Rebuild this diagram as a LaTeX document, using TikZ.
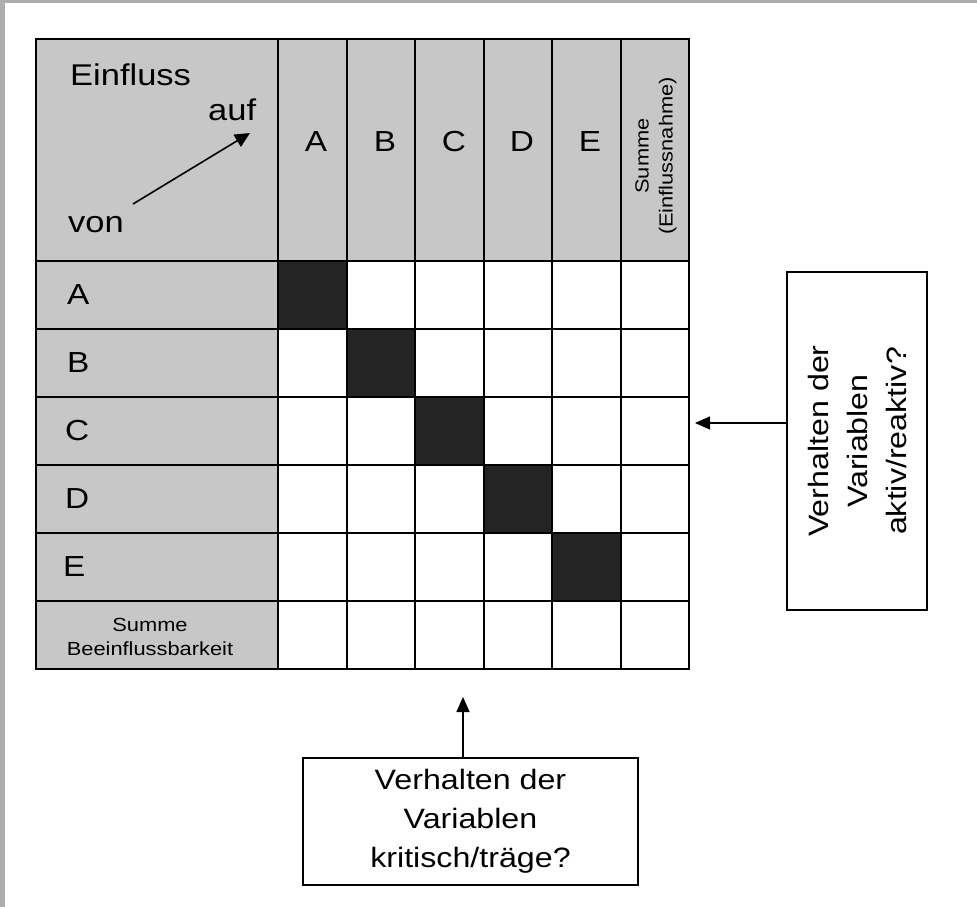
\documentclass[tikz,border=0pt]{standalone}
\usepackage{fontspec}
\setmainfont[FakeStretch=1.15]{Liberation Sans}
\usetikzlibrary{arrows.meta}
\begin{document}
\begin{tikzpicture}[x=1pt,y=-1pt,
  stip/.style={fill=black!22},
  darkcell/.style={fill=black!86},
  gridline/.style={line width=1.8pt},
  biglbl/.style={font=\fontsize{30}{34}\selectfont, inner sep=0pt},
  lbl/.style={font=\fontsize{29}{34}\selectfont, inner sep=0pt},
  smalllbl/.style={font=\fontsize{19}{24}\selectfont, align=center, inner sep=0pt},
  questbox/.style={draw, line width=1.5pt, align=center, inner sep=0pt,
                   font=\fontsize{28}{39}\selectfont},
  arr/.style={line width=1.4pt, -{Triangle[length=15pt,width=13pt]}}
]
\useasboundingbox (0,0) rectangle (977,907);
% scan frame
\fill[black!32] (0,0) rectangle (977,3);
\fill[black!32] (0,0) rectangle (5,907);

% stippled header row and label column
\fill[stip] (36,39) rectangle (689,261);
\fill[stip] (36,261) rectangle (278,669);

% dark diagonal cells
\foreach \xa/\xb/\ya/\yb in {278/347/261/329,347/415/329/397,415/484/397/465,484/552/465/533,552/621/533/601}
  \fill[darkcell] (\xa,\ya) rectangle (\xb,\yb);

% grid
\draw[gridline] (36,39) rectangle (689,669);
\foreach \y in {261,329,397,465,533,601}
  \draw[gridline] (36,\y) -- (689,\y);
\foreach \x in {278,347,415,484,552,621}
  \draw[gridline] (\x,39) -- (\x,669);

% corner cell
\node[biglbl, anchor=base west] (einfluss) at (70,85) {Einfluss};
\node[biglbl, anchor=base west] (auf) at (208,120) {auf};
\node[biglbl, anchor=base west] (von) at (68,232) {von};
\coordinate (vonstart) at (133,204);
\coordinate (aufend) at (250,133);
\draw[line width=1.6pt, -{Triangle[length=15pt,width=14pt]}] (vonstart) -- (aufend);

% column heads
\node[lbl] (colA) at (316,142) {A};
\node[lbl] (colB) at (385,142) {B};
\node[lbl] (colC) at (454,142) {C};
\node[lbl] (colD) at (522,142) {D};
\node[lbl] (colE) at (590,142) {E};
\node[smalllbl, rotate=90] (colSum) at (656,156) {Summe\\(Einflussnahme)};

% row heads
\node[lbl, anchor=west] (rowA) at (67,295) {A};
\node[lbl, anchor=west] (rowB) at (67,363) {B};
\node[lbl, anchor=west] (rowC) at (65,431) {C};
\node[lbl, anchor=west] (rowD) at (65,499) {D};
\node[lbl, anchor=west] (rowE) at (63,567) {E};
\node[smalllbl] (rowSum) at (150,637) {Summe\\Beeinflussbarkeit};

% question boxes
\node[questbox, rotate=90, minimum width=338pt, minimum height=140pt] (rbox) at (857,441)
  {Verhalten der\\Variablen\\aktiv/reaktiv?};
\node[questbox, minimum width=335pt, minimum height=127pt] (bbox) at (470.5,821.5)
  {Verhalten der\\Variablen\\kritisch/träge?};

\coordinate (tipR) at (695,423);
\coordinate (tipB) at (463,697);
\draw[arr] (rbox.north |- tipR) -- (tipR);
\draw[arr] (bbox.north -| tipB) -- (tipB);
\end{tikzpicture}
\end{document}
